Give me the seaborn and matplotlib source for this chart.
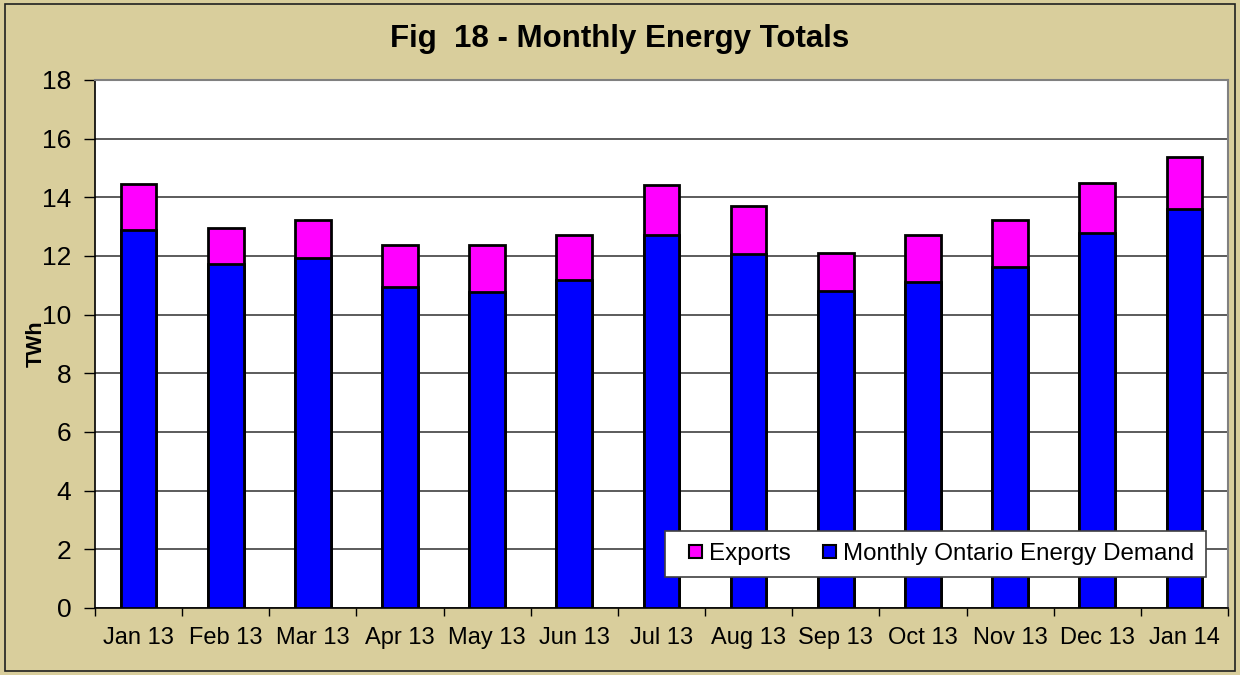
import numpy as np
import pandas as pd
import matplotlib.pyplot as plt
import seaborn as sns
from matplotlib.patches import Patch, Rectangle
from matplotlib.legend_handler import HandlerPatch

# --- data (TWh) ---
months = ['Jan 13', 'Feb 13', 'Mar 13', 'Apr 13', 'May 13', 'Jun 13', 'Jul 13',
          'Aug 13', 'Sep 13', 'Oct 13', 'Nov 13', 'Dec 13', 'Jan 14']
demand = [12.88, 11.74, 11.94, 10.94, 10.77, 11.17, 12.71,
          12.08, 10.82, 11.11, 11.62, 12.79, 13.59]
exports = [1.57, 1.23, 1.30, 1.45, 1.62, 1.54, 1.70,
           1.63, 1.29, 1.60, 1.62, 1.70, 1.77]
yticks = [0, 2, 4, 6, 8, 10, 12, 14, 16, 18]

BG = '#D9CE9C'
MAGENTA = '#FF00FF'
BLUE = '#0000FF'

df = pd.DataFrame({'month': months, 'demand': demand, 'exports': exports})
df['total'] = df['demand'] + df['exports']

sns.set_theme(style='white')
plt.rcParams['font.family'] = ['Liberation Sans', 'DejaVu Sans']
plt.rcParams['text.color'] = 'black'
plt.rcParams['axes.labelcolor'] = 'black'
plt.rcParams['xtick.color'] = 'black'
plt.rcParams['ytick.color'] = 'black'

fig = plt.figure(figsize=(12.4, 6.75), dpi=100, facecolor=BG)
ax = fig.add_axes([0.0766, 0.0993, 0.9137, 0.7822])
ax.set_facecolor('white')

# outer border of the chart
fig.patches.append(Rectangle((0.004, 0.006), 0.992, 0.988, transform=fig.transFigure,
                             fill=False, edgecolor='#202020', linewidth=1.2))

# stacked bars: total (magenta) behind, demand (blue) in front
sns.barplot(data=df, x='month', y='total', color=MAGENTA, saturation=1, width=0.41,
            edgecolor='black', linewidth=2, ax=ax, zorder=3)
sns.barplot(data=df, x='month', y='demand', color=BLUE, saturation=1, width=0.41,
            edgecolor='black', linewidth=2, ax=ax, zorder=4)

ax.set_ylim(0, 18)
ax.set_xlim(-0.5, len(months) - 0.5)
ax.set_yticks(yticks)
ax.yaxis.grid(True, color='#404040', linewidth=1.2, zorder=1)
ax.set_axisbelow(True)

ax.set_xlabel('')
ax.set_ylabel('TWh', fontsize=15.5, fontweight='bold', labelpad=0)
ax.yaxis.set_label_coords(-0.043, 0.5)
ax.tick_params(axis='y', labelsize=19, length=8, width=1, color='black',
               direction='out', left=True, pad=9)
ax.tick_params(axis='x', which='major', labelsize=17, length=0, pad=14)
ax.set_xticks(np.arange(-0.5, len(months), 1), minor=True)
ax.tick_params(axis='x', which='minor', length=6, width=1, color='black',
               direction='out', bottom=True)

for side in ['left', 'bottom']:
    ax.spines[side].set_color('black')
    ax.spines[side].set_linewidth(1.2)
for side in ['top', 'right']:
    ax.spines[side].set_color('#808080')
    ax.spines[side].set_linewidth(1.5)

fig.text(0.5, 0.942, 'Fig  18 - Monthly Energy Totals', ha='center', va='center',
         fontsize=22.5, fontweight='bold')


# small square legend key (13 px), pushed to the right end of the handle box
def square_key(legend, orig_handle, xdescent, ydescent, width, height, fontsize):
    s = 13 * 72 / legend.figure.dpi
    return Rectangle((width - s - xdescent, (height - s) / 2 - ydescent), s, s)


handles = [Patch(facecolor=MAGENTA, edgecolor='black', linewidth=1.5),
           Patch(facecolor=BLUE, edgecolor='black', linewidth=1.5)]
leg = ax.legend(handles, ['Exports', 'Monthly Ontario Energy Demand'], ncol=2,
                loc='lower right', bbox_to_anchor=(0.981, 0.059), fontsize=17.4,
                frameon=True, fancybox=False, edgecolor='#404040', framealpha=1,
                handler_map={Patch: HandlerPatch(patch_func=square_key)},
                handlelength=1.03, handleheight=0.55, handletextpad=0.29,
                columnspacing=0.87, borderpad=0.5, borderaxespad=0)
leg.get_frame().set_linewidth(1.2)
leg.set_zorder(10)

fig.savefig('out.png', dpi=100, facecolor=BG)
